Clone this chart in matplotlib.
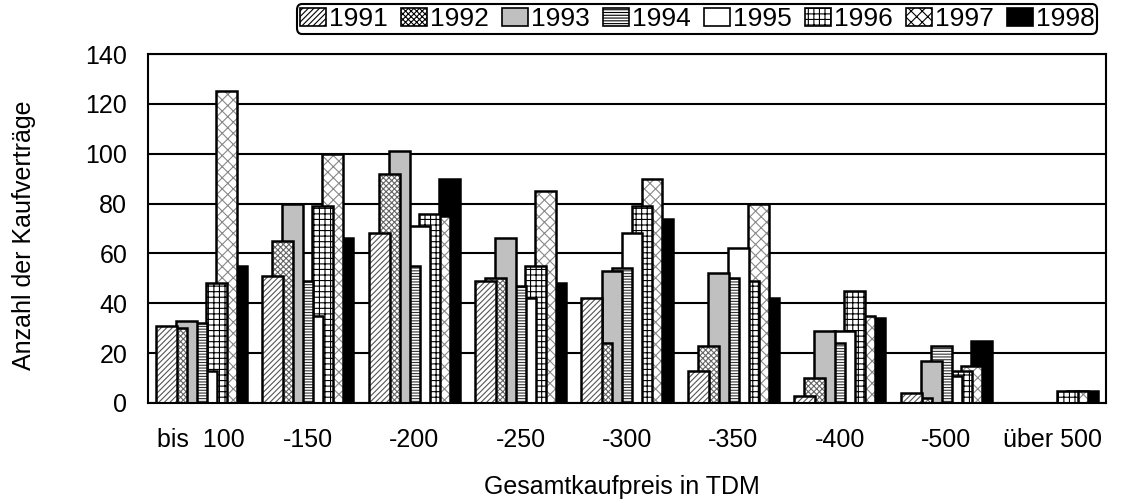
import numpy as np
import matplotlib
matplotlib.use('Agg')
import matplotlib.pyplot as plt

plt.rcParams['font.family'] = ['Liberation Sans', 'DejaVu Sans']
plt.rcParams['hatch.linewidth'] = 0.8

categories = ['bis  100', '-150', '-200', '-250', '-300', '-350', '-400', '-500', 'über 500']
years = ['1991', '1992', '1993', '1994', '1995', '1996', '1997', '1998']

v1991 = [31, 51, 68, 49, 42, 13, 3, 4, 0]
v1992 = [30, 65, 92, 50, 24, 23, 10, 2, 0]
v1993 = [33, 80, 101, 66, 53, 52, 29, 17, 0]
v1994 = [32, 49, 55, 47, 54, 50, 24, 23, 0]
v1995 = [13, 35, 71, 42, 68, 62, 29, 11, 0]
v1996 = [48, 79, 76, 55, 79, 49, 45, 13, 5]
v1997 = [125, 100, 75, 85, 90, 80, 35, 15, 5]
v1998 = [55, 66, 90, 48, 74, 42, 34, 25, 5]
series = [v1991, v1992, v1993, v1994, v1995, v1996, v1997, v1998]

yticks = [0, 20, 40, 60, 80, 100, 120, 140]

# fill / hatch per year (Excel b/w patterns)
faces = ['white', 'white', '#c0c0c0', 'white', 'white', 'white', 'white', 'black']
hatches = ['//////', 'xxxxxx', '', '------', '', '+++', 'xxx', '']
hcolors = ['#555555', '#666666', 'black', '#333333', 'black', 'black', '#888888', 'black']

fig = plt.figure(figsize=(11.26, 5.03), dpi=100)
ax = fig.add_axes([148/1126, 1-403/503, 958/1126, 349/503])

x = np.arange(len(categories))
width = 0.197
step = 0.094
bars = []
for i, (yr, vals) in enumerate(zip(years, series)):
    b = ax.bar(x + (i - 3.5) * step, vals, width, facecolor=faces[i],
               edgecolor=hcolors[i], hatch=hatches[i], linewidth=0,
               zorder=10 - i, label=yr)
    # black outline drawn separately so hatch colour can differ
    ax.bar(x + (i - 3.5) * step, vals, width, facecolor='none',
           edgecolor='black', linewidth=1.8, zorder=10 - i + 0.01)
    bars.append(b)

ax.set_xlim(-0.5, len(categories) - 0.5)
ax.set_ylim(0, 140)
ax.set_yticks(yticks)
ax.set_xticks(x)
ax.set_xticklabels(categories)
ax.tick_params(length=0, labelsize=18)
ax.tick_params(axis='y', pad=15)
ax.tick_params(axis='x', pad=18)
ax.grid(axis='y', color='black', linewidth=1.5, zorder=0)
ax.set_axisbelow(True)
for s in ax.spines.values():
    s.set_linewidth(1.5)
    s.set_zorder(20)

ax.set_xlabel('Gesamtkaufpreis in TDM', fontsize=18)
ax.set_ylabel('Anzahl der Kaufverträge', fontsize=18)
ax.xaxis.set_label_coords(0.495, -0.205)
ax.yaxis.set_label_coords(-0.117, 0.48)

leg = fig.legend(handles=bars, labels=years, loc='center', ncol=8,
                 bbox_to_anchor=(697/1126, 1-19/503), fontsize=19,
                 handlelength=1.0, handleheight=0.7, handletextpad=0.1,
                 columnspacing=0.5, borderpad=0.1, fancybox=True,
                 edgecolor='black', framealpha=1)
leg.get_frame().set_linewidth(1.5)
for h in leg.legend_handles:
    h.set_linewidth(1.2)
    h.set_edgecolor('black')

fig.savefig('out.png', dpi=100)
